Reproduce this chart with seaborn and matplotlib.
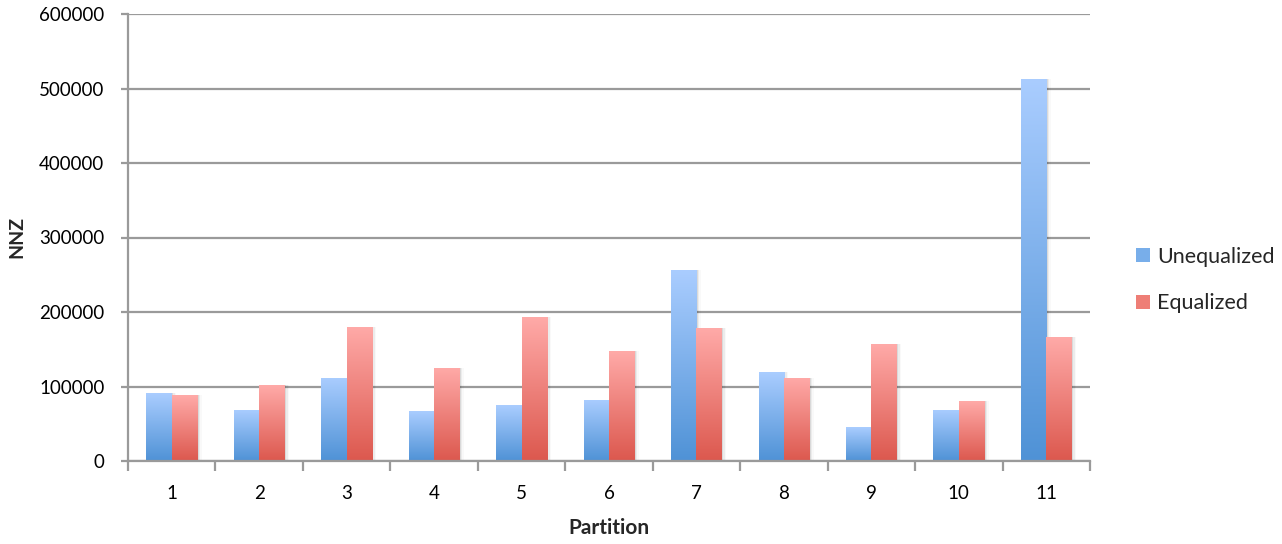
import numpy as np
import pandas as pd
import matplotlib
matplotlib.use("Agg")
import matplotlib.pyplot as plt
from matplotlib.colors import LinearSegmentedColormap
from matplotlib.patches import Patch, Rectangle
import matplotlib.transforms as mtransforms
import seaborn as sns

# Data: non-zero counts per partition
partitions = ["1", "2", "3", "4", "5", "6", "7", "8", "9", "10", "11"]
unequalized = [91000, 69000, 112000, 67000, 75000, 82500, 256000, 119000, 45000, 69000, 513000]
equalized = [88000, 102000, 180000, 125000, 193000, 147000, 178000, 112000, 156500, 80000, 166000]
series_names = ["Unequalized", "Equalized"]
y_ticks = [0, 100000, 200000, 300000, 400000, 500000, 600000]

df = pd.DataFrame({
    "Partition": partitions * 2,
    "NNZ": unequalized + equalized,
    "Series": [series_names[0]] * len(partitions) + [series_names[1]] * len(partitions),
})

sns.set_theme(style="white")
plt.rcParams["font.family"] = ["Lato", "DejaVu Sans"]

grid_col = "#9a9a9a"
blue_top, blue_bot = "#aacdff", "#4f92d6"
red_top, red_bot = "#ffaaa8", "#dc584e"

fig = plt.figure(figsize=(12.82, 5.44), dpi=100)
ax = fig.add_axes([128 / 1282, 1 - 461 / 544, (1090 - 128) / 1282, (461 - 14) / 544])

sns.barplot(data=df, x="Partition", y="NNZ", hue="Series", order=partitions,
            hue_order=series_names, palette=[blue_bot, red_bot], width=0.58,
            errorbar=None, saturation=1, legend=False, ax=ax)

cmaps = [LinearSegmentedColormap.from_list("b", [blue_bot, blue_top]),
         LinearSegmentedColormap.from_list("r", [red_bot, red_top])]
grad = np.linspace(0, 1, 256).reshape(-1, 1)

for ci, container in enumerate(ax.containers):
    for bar in container:
        x0, y0 = bar.get_x(), bar.get_y()
        w, h = bar.get_width(), bar.get_height()
        # soft drop shadow on the right
        for k, a in enumerate([0.08, 0.05, 0.025]):
            sh = Rectangle((x0, y0), w, h, transform=mtransforms.offset_copy(
                ax.transData, fig=fig, x=1.5 + 1.5 * k, y=0, units="dots"),
                facecolor="black", edgecolor="none", alpha=a, zorder=1.5)
            ax.add_patch(sh)
        bar.set_facecolor("none")
        bar.set_edgecolor("none")
        bar.set_zorder(2)
        im = ax.imshow(grad, extent=[x0, x0 + w, y0, y0 + h], origin="lower",
                       aspect="auto", cmap=cmaps[ci], zorder=2, interpolation="bilinear")
        im.set_clip_path(bar)

ax.set_xlim(-0.5, len(partitions) - 0.5)
ax.set_ylim(0, 600000)
ax.set_yticks(y_ticks)
ax.set_yticklabels([str(v) for v in y_ticks])

# grid lines
ax.set_axisbelow(True)
ax.yaxis.grid(True, color=grid_col, linewidth=1.6)
ax.xaxis.grid(False)

for s in ["top", "right"]:
    ax.spines[s].set_visible(False)
for s in ["left", "bottom"]:
    ax.spines[s].set_color(grid_col)
    ax.spines[s].set_linewidth(1.6)

ax.tick_params(axis="y", which="major", direction="out", length=5, width=1.6,
               color=grid_col, labelsize=13.5, labelcolor="black", pad=12, left=True)
ax.tick_params(axis="x", which="major", length=0, labelsize=13.5, labelcolor="black", pad=17)
ax.set_xticks(np.arange(-0.5, len(partitions), 1.0), minor=True)
ax.tick_params(axis="x", which="minor", direction="out", length=7, width=1.6,
               color=grid_col, bottom=True)

ax.set_xlabel("Partition", fontsize=15, fontweight="bold", labelpad=12)
ax.set_ylabel("NNZ", fontsize=14, fontweight="bold", labelpad=10)

handles = [Patch(facecolor="#78aeea", edgecolor="none"),
           Patch(facecolor="#ee7e76", edgecolor="none")]
fig.legend(handles, series_names, loc="center left",
           bbox_to_anchor=(1117 / 1282, 1 - 280 / 544), frameon=False,
           fontsize=15.5, handlelength=0.65, handleheight=0.65, handletextpad=0.3,
           labelspacing=1.25)

fig.savefig("out.png", dpi=100)
